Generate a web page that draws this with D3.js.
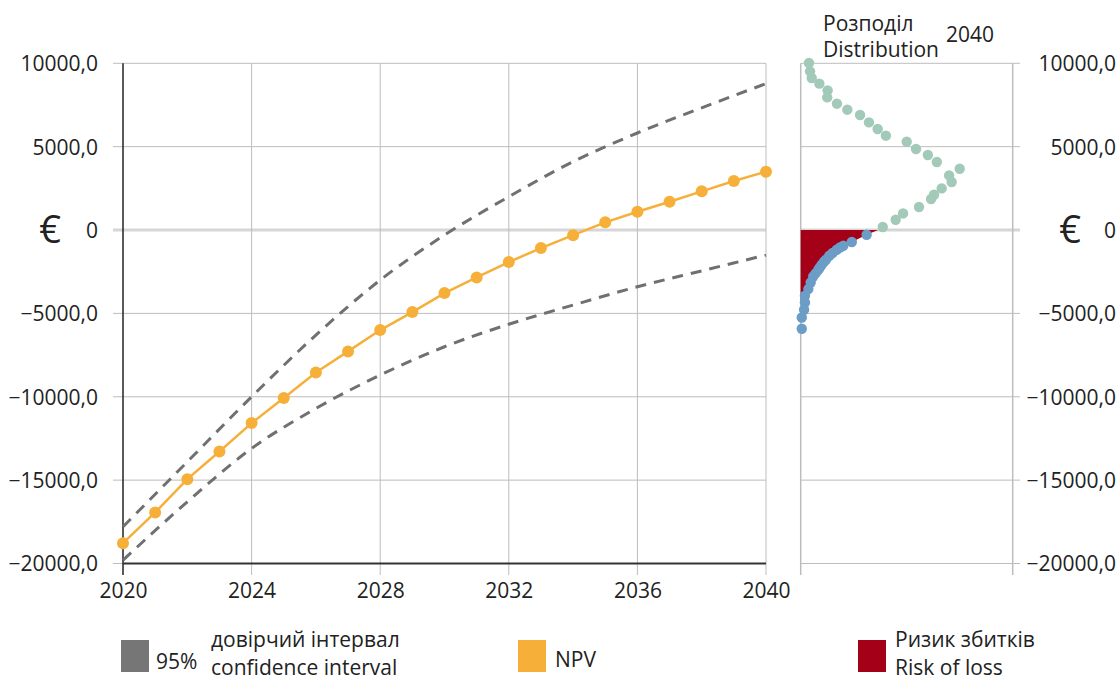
<!DOCTYPE html>
<html>
<head>
<meta charset="utf-8">
<script src="https://cdn.jsdelivr.net/npm/d3@7/dist/d3.min.js"></script>
<style>
  html, body { margin: 0; padding: 0; background: #fff; }
  svg text { font-family: "Open Sans", "DejaVu Sans", sans-serif; fill: #222; }
</style>
</head>
<body>
<svg id="chart" width="1120" height="680"></svg>
<script>
// Net present value by year, with the 95% confidence band
const years = [2020, 2021, 2022, 2023, 2024, 2025, 2026, 2027, 2028, 2029, 2030,
               2031, 2032, 2033, 2034, 2035, 2036, 2037, 2038, 2039, 2040];
const npv = [-18780, -16940, -14940, -13280, -11580, -10080, -8540, -7280, -6000, -4920, -3780,
             -2840, -1920, -1080, -310, 460, 1100, 1700, 2320, 2940, 3500];

const ciYears = [2020, 2022, 2024, 2026, 2028, 2030, 2032, 2034, 2036, 2038, 2040];
const ciUpper = [-17800, -13900, -10000, -6300, -3000, -300, 2000, 4100, 5820, 7330, 8780];
const ciLower = [-19800, -16300, -13100, -10700, -8700, -7000, -5650, -4500, -3400, -2450, -1500];

// NPV distribution in 2040 (relative density), split into gains and losses
const gainValues  = [10020, 9516, 9120, 8778, 8376, 7956, 7578, 7218, 6900, 6456, 6060, 5658, 5298,
                     4860, 4500, 4080, 3678, 3276, 2880, 2496, 2118, 1860, 1380, 996, 618, 180];
const gainDensity = [0.039, 0.044, 0.052, 0.088, 0.127, 0.125, 0.171, 0.220, 0.280, 0.322, 0.363, 0.402, 0.500,
                     0.544, 0.600, 0.642, 0.750, 0.700, 0.712, 0.665, 0.629, 0.615, 0.558, 0.483, 0.448, 0.387];
const lossValues  = [-282, -720, -942, -1050, -1182, -1380, -1542, -1782, -1900, -2082, -2250, -2382,
                     -2600, -2784, -3144, -3540, -3942, -4344, -4782, -5244, -5922];
const lossDensity = [0.311, 0.241, 0.201, 0.185, 0.170, 0.150, 0.135, 0.119, 0.110, 0.099, 0.090, 0.083,
                     0.070, 0.059, 0.047, 0.036, 0.020, 0.020, 0.016, 0.005, 0.005];
const lossEdge = { value: 0, density: 0.365 };

const yTicks = [10000, 5000, 0, -5000, -10000, -15000, -20000];
const xTicks = [2020, 2024, 2028, 2032, 2036, 2040];

const legendItems = [
  { color: "#767676", lead: "95%", lines: ["довірчий інтервал", "confidence interval"] },
  { color: "#F6B03A", lead: "", lines: ["NPV"] },
  { color: "#A40018", lead: "", lines: ["Ризик збитків", "Risk of loss"] }
];

const svg = d3.select("#chart");

const x = d3.scaleLinear().domain([2020, 2040]).range([123, 766]);
const y = d3.scaleLinear().domain([-20000, 10000]).range([563.5, 63.3]);
const dx = d3.scaleLinear().domain([0, 1]).range([800.7, 1012.7]);

const fmt = v => v === 0 ? "0" : d3.format(".1f")(v).replace(".", ",");
const gridColor = "#BDBDBD";

// ---- main panel grid ----
const grid = svg.append("g");
grid.selectAll(".hg").data(yTicks).join("line")
  .attr("x1", 113).attr("x2", x(2040))
  .attr("y1", d => y(d)).attr("y2", d => y(d))
  .attr("stroke", d => d === 0 ? "#D6D6D6" : gridColor)
  .attr("stroke-width", d => d === 0 ? 3 : 1);
grid.selectAll(".vg").data(xTicks.slice(1)).join("line")
  .attr("x1", d => x(d)).attr("x2", d => x(d))
  .attr("y1", y(10000)).attr("y2", 575)
  .attr("stroke", gridColor).attr("stroke-width", 1);

// axes lines
svg.append("line").attr("x1", x(2020)).attr("x2", x(2020)).attr("y1", y(10000)).attr("y2", 575)
  .attr("stroke", "#222").attr("stroke-width", 1.5);
svg.append("line").attr("x1", x(2020)).attr("x2", x(2040)).attr("y1", y(-20000)).attr("y2", y(-20000))
  .attr("stroke", "#333").attr("stroke-width", 2);

// left axis labels
const yAxisL = d3.axisLeft(y).tickValues(yTicks).tickFormat(fmt).tickSize(0).tickPadding(0);
const gL = svg.append("g").attr("transform", "translate(98,0)").call(yAxisL);
gL.select(".domain").remove();
gL.selectAll("text").attr("font-size", 21).attr("dy", "0.35em").attr("fill", "#222");

// bottom axis labels
const xAxis = d3.axisBottom(x).tickValues(xTicks).tickFormat(d3.format("d")).tickSize(0).tickPadding(0);
const gB = svg.append("g").attr("transform", "translate(0,583)").call(xAxis);
gB.select(".domain").remove();
gB.selectAll("text").attr("font-size", 21).attr("dy", "0.71em").attr("fill", "#222");

// euro signs
svg.append("text").attr("x", 50).attr("y", y(0)).attr("dy", "0.35em").attr("text-anchor", "middle")
  .attr("font-size", 38).text("€");
svg.append("text").attr("x", 1070).attr("y", y(0)).attr("dy", "0.35em").attr("text-anchor", "middle")
  .attr("font-size", 38).text("€");

// ---- confidence band ----
const ciLine = d3.line().x(d => x(d[0])).y(d => y(d[1])).curve(d3.curveMonotoneX);
[ciUpper, ciLower].forEach(series => {
  svg.append("path")
    .datum(ciYears.map((yr, i) => [yr, series[i]]))
    .attr("d", ciLine)
    .attr("fill", "none").attr("stroke", "#707070")
    .attr("stroke-width", 3).attr("stroke-dasharray", "11,8");
});

// ---- NPV line ----
const npvData = years.map((yr, i) => [yr, npv[i]]);
svg.append("path").datum(npvData)
  .attr("d", d3.line().x(d => x(d[0])).y(d => y(d[1])))
  .attr("fill", "none").attr("stroke", "#F6B03A").attr("stroke-width", 2.5);
svg.selectAll(".npvdot").data(npvData).join("circle")
  .attr("cx", d => x(d[0])).attr("cy", d => y(d[1])).attr("r", 6)
  .attr("fill", "#F6B03A");

// ---- distribution panel ----
const dg = svg.append("g");
dg.selectAll(".dh").data(yTicks).join("line")
  .attr("x1", dx(0)).attr("x2", 1020)
  .attr("y1", d => y(d)).attr("y2", d => y(d))
  .attr("stroke", d => d === 0 ? "#D6D6D6" : gridColor)
  .attr("stroke-width", d => d === 0 ? 3 : 1);
dg.append("line").attr("x1", dx(0)).attr("x2", dx(0)).attr("y1", y(10000)).attr("y2", 575)
  .attr("stroke", gridColor).attr("stroke-width", 1.5);
dg.append("line").attr("x1", dx(1)).attr("x2", dx(1)).attr("y1", y(10000)).attr("y2", 575)
  .attr("stroke", gridColor).attr("stroke-width", 1.5);

// right axis labels
const yAxisR = d3.axisLeft(y).tickValues(yTicks).tickFormat(fmt).tickSize(0).tickPadding(0);
const gR = svg.append("g").attr("transform", "translate(1116,0)").call(yAxisR);
gR.select(".domain").remove();
gR.selectAll("text").attr("font-size", 21).attr("dy", "0.35em").attr("fill", "#222");

// risk of loss area
const lossPts = [lossEdge].concat(lossValues.map((v, i) => ({ value: v, density: lossDensity[i] })))
  .filter(d => d.value >= -4400);
dg.append("path").datum(lossPts)
  .attr("d", d3.area().y(d => y(d.value)).x0(dx(0)).x1(d => dx(d.density)))
  .attr("fill", "#A40018");

dg.selectAll(".gain").data(gainValues.map((v, i) => [v, gainDensity[i]])).join("circle")
  .attr("cx", d => dx(d[1])).attr("cy", d => y(d[0])).attr("r", 5.2)
  .attr("fill", "#A3C9B9");
dg.selectAll(".loss").data(lossValues.map((v, i) => [v, lossDensity[i]])).join("circle")
  .attr("cx", d => dx(d[1])).attr("cy", d => y(d[0])).attr("r", 5.2)
  .attr("fill", "#6B9DC6");

// panel title
svg.append("text").attr("x", 823).attr("y", 31).attr("font-size", 21).text("Розподіл");
svg.append("text").attr("x", 823).attr("y", 57).attr("font-size", 21).text("Distribution");
svg.append("text").attr("x", 946).attr("y", 42).attr("font-size", 21).text("2040");

// ---- legend ----
const legendX = [121, 518, 858];
legendItems.forEach((item, i) => {
  const g = svg.append("g").attr("transform", `translate(${legendX[i]},640)`);
  g.append("rect").attr("width", 28).attr("height", 32).attr("fill", item.color);
  let tx = 37;
  if (item.lead) {
    g.append("text").attr("x", 35).attr("y", 29).attr("font-size", 21).text(item.lead);
    tx = 90;
  }
  if (item.lines.length === 1) {
    g.append("text").attr("x", tx).attr("y", 27).attr("font-size", 21).text(item.lines[0]);
  } else {
    g.append("text").attr("x", tx).attr("y", 7).attr("font-size", 21).text(item.lines[0]);
    g.append("text").attr("x", tx).attr("y", 35).attr("font-size", 21).text(item.lines[1]);
  }
});
</script>
</body>
</html>
